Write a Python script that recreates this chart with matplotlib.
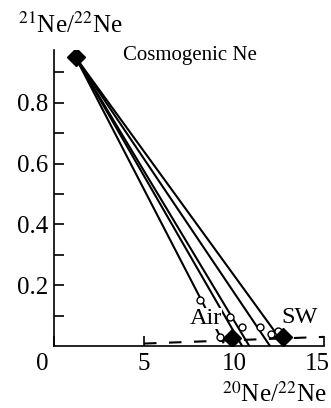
import matplotlib
matplotlib.use('Agg')
import matplotlib.pyplot as plt

# Points (20Ne/22Ne, 21Ne/22Ne)
cosmo = (1.2, 0.95)
air = (9.87, 0.026)
sw = (12.7, 0.031)

# ends of the mixing lines from cosmogenic Ne
line_end_x = [9.4, 10.45, 10.85, 12.0, 12.85]
line_end_y = [0.012, 0.0, 0.0, 0.0, 0.0]

# measured samples (open circles)
samp_x = [8.11, 9.22, 9.78, 10.43, 11.42, 12.03, 12.42]
samp_y = [0.151, 0.028, 0.096, 0.061, 0.064, 0.039, 0.051]

# mass fractionation line (dashed)
mfl_x = [5.0, 15.0]
mfl_y = [0.008, 0.030]

xticks = [0, 5, 10, 15]
# the original labels sit a little off their ticks
xlabel_pos = [-0.63, 5.0, 10.0, 14.64]
yticks = [0.1, 0.2, 0.3, 0.4, 0.5, 0.6, 0.7, 0.8, 0.9]
ylabels = ['', '0.2', '', '0.4', '', '0.6', '', '0.8', '']

plt.rcParams['font.family'] = ['Liberation Serif', 'DejaVu Serif']
plt.rcParams['mathtext.fontset'] = 'stix'

fig = plt.figure(figsize=(3.31, 4.08), dpi=100)
ax = fig.add_axes([54 / 331, 1 - 346 / 408, 270 / 331, 296 / 408])

for xe, ye in zip(line_end_x, line_end_y):
    ax.plot([cosmo[0], xe], [cosmo[1], ye], color='black', lw=1.5, zorder=2)

ax.plot(mfl_x, mfl_y, color='black', lw=1.5, dashes=(6, 6), zorder=2)

ax.plot(samp_x, samp_y, 'o', ms=5, mfc='white', mec='black', mew=1.0, zorder=4)

for p in (cosmo, air, sw):
    ax.plot(p[0], p[1], 'D', ms=9.5, color='black', zorder=5)

ax.text(8.44, 0.092, 'Air', fontsize=17.5, ha='center', va='center',
        bbox=dict(facecolor='white', edgecolor='none', pad=0), zorder=3)
ax.text(13.67, 0.095, 'SW', fontsize=17.5, ha='center', va='center', zorder=3)
ax.text(7.55, 0.955, 'Cosmogenic Ne', fontsize=15, ha='center', va='center')

ax.set_xlim(0, 15)
ax.set_ylim(0, 0.974)
ax.set_xticks(xticks)
ax.set_xticklabels([])
for xp, v in zip(xlabel_pos, xticks):
    ax.text(xp, -0.062, str(v), fontsize=18, ha='center', va='center',
            transform=ax.get_xaxis_transform(), clip_on=False)
ax.set_yticks(yticks)
ax.set_yticklabels(ylabels)
ax.tick_params(direction='in', length=7, width=1.2, labelsize=18)
ax.tick_params(axis='y', pad=4)
for s in ('top', 'right'):
    ax.spines[s].set_visible(False)
for s in ('left', 'bottom'):
    ax.spines[s].set_linewidth(1.2)

fig.text(70 / 331, 1 - 25 / 408, r'$^{21}$Ne/$^{22}$Ne', fontsize=18,
         ha='center', va='center')
fig.text(274 / 331, 1 - 394 / 408, r'$^{20}$Ne/$^{22}$Ne', fontsize=18,
         ha='center', va='center')

plt.savefig('out.png', dpi=100)
plt.close(fig)
